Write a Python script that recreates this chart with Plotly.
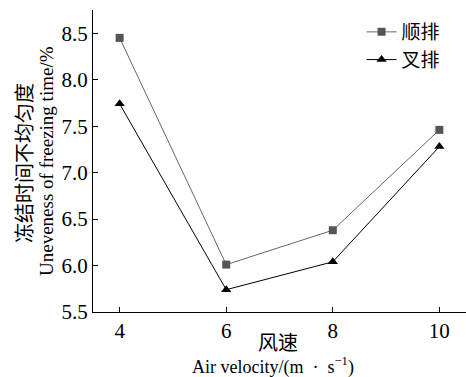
import plotly.graph_objects as go

velocity = [4, 6, 8, 10]
shun_pai = [8.45, 6.01, 6.38, 7.46]
cha_pai = [7.74, 5.74, 6.04, 7.28]
series_names = ["顺排", "叉排"]

serif = "Liberation Serif"
cjk = "Noto Sans CJK SC"

fig = go.Figure()
fig.add_trace(go.Scatter(
    x=velocity, y=shun_pai, name=series_names[0], mode="lines+markers",
    line=dict(color="#666666", width=1),
    marker=dict(symbol="square", size=8, color="#555555"),
))
fig.add_trace(go.Scatter(
    x=velocity, y=cha_pai, name=series_names[1], mode="lines+markers",
    line=dict(color="#000000", width=1),
    marker=dict(symbol="triangle-up", size=9, color="#000000"),
))

axis_common = dict(
    showline=True, linecolor="black", linewidth=1,
    ticks="inside", ticklen=5, tickcolor="black", tickwidth=1,
    showgrid=False, zeroline=False,
    tickfont=dict(family=serif, size=21, color="black"),
)

fig.update_layout(
    width=466, height=377,
    margin=dict(l=93, r=0, t=10, b=65),
    plot_bgcolor="white", paper_bgcolor="white",
    showlegend=True,
    legend=dict(
        x=0.72, y=0.99, xanchor="left", yanchor="top",
        font=dict(family=cjk, size=19, color="black"),
        bgcolor="rgba(0,0,0,0)", tracegroupgap=0, itemsizing="trace",
    ),
    xaxis=dict(range=[3.5, 10.5], tickvals=velocity, **axis_common),
    yaxis=dict(range=[5.5, 8.75], tickvals=[5.5, 6.0, 6.5, 7.0, 7.5, 8.0, 8.5],
               tickformat=".1f", **axis_common),
)

fig.add_annotation(text="冻结时间不均匀度", xref="paper", yref="paper",
                   x=-(93 - 23) / 373, y=(312 - 163) / 302, textangle=-90,
                   showarrow=False, font=dict(family=cjk, size=20, color="black"),
                   xanchor="center", yanchor="middle")
fig.add_annotation(text="Uneveness of freezing time/%", xref="paper", yref="paper",
                   x=-(93 - 46) / 373, y=(312 - 161) / 302, textangle=-90,
                   showarrow=False, font=dict(family=serif, size=19, color="black"),
                   xanchor="center", yanchor="middle")
fig.add_annotation(text="风速", xref="paper", yref="paper",
                   x=(278 - 93) / 373, y=-(341 - 312) / 302,
                   showarrow=False, font=dict(family=cjk, size=20, color="black"),
                   xanchor="center", yanchor="middle")
fig.add_annotation(text="Air velocity/(m  ·  s<sup>−1</sup>)", xref="paper", yref="paper",
                   x=(273 - 93) / 373, y=-(366 - 312) / 302,
                   showarrow=False, font=dict(family=serif, size=18, color="black"),
                   xanchor="center", yanchor="middle")

fig.write_html("out.html")
